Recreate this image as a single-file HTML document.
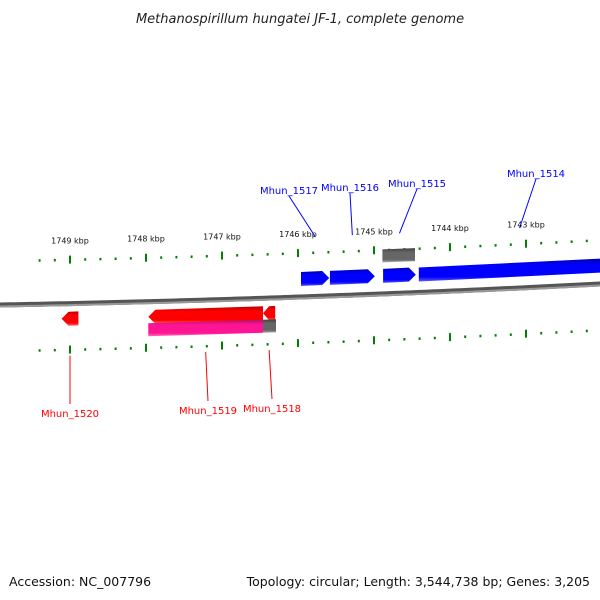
<!DOCTYPE html>
<html><head><meta charset="utf-8"><style>
body{margin:0;background:#fff}
svg{display:block;font-family:"DejaVu Sans","Liberation Sans",sans-serif}
</style></head><body>
<svg id="chart" width="600" height="600" viewBox="0 0 600 600">
<defs>
<linearGradient id="gBlue" x1="0" y1="0" x2="0" y2="1"><stop offset="0" stop-color="#0000b0"/><stop offset="0.3" stop-color="#0000ff"/><stop offset="0.8" stop-color="#0000ff"/><stop offset="1" stop-color="#5a5aff"/></linearGradient>
<linearGradient id="gRed" x1="0" y1="0" x2="0" y2="1"><stop offset="0" stop-color="#c00000"/><stop offset="0.3" stop-color="#ff0000"/><stop offset="0.8" stop-color="#ff0000"/><stop offset="1" stop-color="#ff6a6a"/></linearGradient>
<linearGradient id="gPink" x1="0" y1="0" x2="0" y2="1"><stop offset="0" stop-color="#b0106a"/><stop offset="0.3" stop-color="#ff1493"/><stop offset="0.8" stop-color="#ff1493"/><stop offset="1" stop-color="#ff6ab8"/></linearGradient>
<linearGradient id="gGray" x1="0" y1="0" x2="0" y2="1"><stop offset="0" stop-color="#404040"/><stop offset="0.3" stop-color="#666"/><stop offset="0.8" stop-color="#666"/><stop offset="1" stop-color="#aaa"/></linearGradient>
</defs>
<text x="300" y="23" text-anchor="middle" font-size="13" font-style="italic" fill="#222">Methanospirillum hungatei JF-1, complete genome</text>
<text x="9" y="586" font-size="12.5" fill="#111">Accession: NC_007796</text>
<text x="590" y="586" text-anchor="end" font-size="12.5" fill="#111">Topology: circular; Length: 3,544,738 bp; Genes: 3,205</text>
<g id="layer"></g>
</svg>
<script>
const tickKbp=[1749,1748,1747,1746,1745,1744,1743];
const geneNames=["Mhun_1517","Mhun_1516","Mhun_1515","Mhun_1514","Mhun_1520","Mhun_1519","Mhun_1518"];
const geneStart=[1745.96,1745.58,1744.88,1744.41,1749.11,1747.97,1746.46];
const geneEnd=[1745.59,1744.99,1744.45,1741.76,1748.89,1746.46,1746.30];
const geneStrand=[1,1,1,1,-1,-1,-1];
const featStart=[1744.89,1747.97,1746.46];
const featEnd=[1744.46,1746.46,1746.29];
const featKind=["gray","pink","gray"];
const featOffset=[-38,28,28];

const NS="http://www.w3.org/2000/svg";
const layer=document.getElementById('layer');
function X(k){return 70+(1749-k)*76;}
function Y(x){return 305-0.0183*x-0.0000278*x*x;}
function mk(tag,attrs){const e=document.createElementNS(NS,tag);for(const a in attrs)e.setAttribute(a,attrs[a]);layer.appendChild(e);return e;}

// backbone
let d="";for(let x=-5;x<=605;x+=5){d+=(x===-5?"M":"L")+x+","+Y(x).toFixed(2);}
let bb=mk('path',{d:d,stroke:"#555",'stroke-width':5,fill:"none"});


let bb2=mk('path',{d:d,stroke:"#999",'stroke-width':2,fill:"none",transform:"translate(0,1.5)"});



// ticks
for(let k=1749.4;k>=1741.9;k-=0.2){
  const kr=Math.round(k*10)/10;const x=X(kr);
  if(x<0||x>600)continue;
  const major=Math.abs(kr-Math.round(kr))<0.01;
  [-44,46].forEach(off=>{
    const y=Y(x)+off;
    const t=mk('rect',{x:x-1,y:major?y-4:y-1,width:2,height:major?8:2.5,fill:"#008000"});
    
    
  });
}
tickKbp.forEach(k=>{
  const x=X(k);
  const t=mk('text',{x:x,y:Y(x)-60,'text-anchor':'middle','font-size':8,fill:'#111'});
  t.textContent=k+" kbp";
  
  
});

function bar(x1,x2,off,h,fill,arrow){
  const a=Math.min(x1,x2),b=Math.max(x1,x2);
  const ya=Y(a)+off,yb=Y(b)+off;
  let pts;const ah=Math.min(7,(b-a)*0.5);
  if(arrow===1){pts=[[a,ya-h/2],[b-ah,yb-h/2],[b,yb],[b-ah,yb+h/2],[a,ya+h/2]];}
  else if(arrow===-1){pts=[[a,ya],[a+ah,ya-h/2],[b,yb-h/2],[b,yb+h/2],[a+ah,ya+h/2]];}
  else pts=[[a,ya-h/2],[b,yb-h/2],[b,yb+h/2],[a,ya+h/2]];
  return mk('polygon',{points:pts.map(p=>p[0].toFixed(1)+","+p[1].toFixed(1)).join(" "),fill:fill});
}
const labelPos=[[289,190],[350,187],[417,183],[536,173],[70,413],[208,410],[272,408]];
geneNames.forEach((n,i)=>{
  const s=geneStrand[i];
  const x1=X(geneStart[i]),x2=X(geneEnd[i]);
  const g=bar(x1,x2,s>0?-18:15,14,s>0?"url(#gBlue)":"url(#gRed)",s);
  
  
  const col=s>0?"#0000ff":"#ff0000";
  const lp=labelPos[i];
  const mx=Math.max(0,Math.min(600,(x1+x2)/2));
  const ax=s>0?mx:mx;const ay=s>0?Y(mx)-60:Y(mx)+52;
  const ln=mk('line',{x1:lp[0],y1:s>0?lp[1]+6:lp[1]-9,x2:ax,y2:ay,stroke:col,'stroke-width':1});
  
  
  const t=mk('text',{x:lp[0],y:lp[1]+4,'text-anchor':'middle','font-size':10,fill:col});
  t.textContent=n;
  
  
});
featKind.forEach((k,i)=>{
  const f=bar(X(featStart[i]),X(featEnd[i]),featOffset[i],13,k==="pink"?"url(#gPink)":"url(#gGray)",0);
  
  
});
</script>
</body></html>
